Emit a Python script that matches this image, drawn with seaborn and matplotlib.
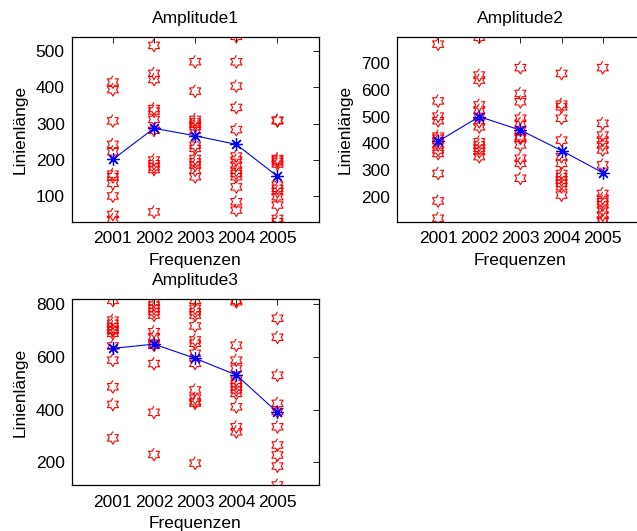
import numpy as np
import pandas as pd
import seaborn as sns
import matplotlib
matplotlib.use("Agg")
import matplotlib.pyplot as plt

years = [2001, 2002, 2003, 2004, 2005]
titles = ["Amplitude1", "Amplitude2", "Amplitude3"]
ylims = [(30, 540), (106, 800), (114, 819)]
yticks = [[100, 200, 300, 400, 500],
          [200, 300, 400, 500, 600, 700],
          [200, 400, 600, 800]]

amp1 = [
    [415, 394, 308, 243, 223, 161, 154, 136, 101, 50, 36],
    [516, 439, 422, 342, 335, 312, 282, 200, 190, 181, 174, 57],
    [471, 390, 312, 305, 299, 292, 282, 241, 232, 204, 195, 186, 172, 154],
    [541, 471, 404, 345, 284, 211, 200, 186, 172, 163, 154, 126, 85, 62],
    [310, 308, 204, 200, 195, 189, 131, 122, 113, 99, 76, 39, 30],
]
amp2 = [
    [772, 559, 502, 485, 427, 419, 410, 394, 375, 362, 287, 184, 119],
    [798, 656, 637, 544, 525, 500, 481, 462, 406, 394, 381, 369, 350],
    [684, 587, 556, 494, 475, 450, 425, 420, 419, 394, 344, 325, 269],
    [662, 547, 537, 494, 412, 350, 325, 287, 275, 262, 250, 237, 206],
    [684, 475, 431, 412, 394, 375, 319, 212, 194, 181, 169, 150, 131, 112, 108],
]
amp3 = [
    [815, 740, 728, 715, 705, 703, 700, 690, 642, 588, 487, 420, 293],
    [810, 797, 785, 772, 759, 696, 677, 650, 645, 575, 390, 230],
    [815, 785, 772, 759, 718, 665, 652, 614, 576, 475, 444, 431, 425, 197],
    [815, 810, 645, 588, 557, 512, 500, 487, 475, 462, 411, 335, 316],
    [747, 675, 531, 424, 393, 335, 266, 228, 186, 114],
]

# hexagram marker (MATLAB 'h')
ang = np.deg2rad(90 + 30 * np.arange(12))
rad = np.where(np.arange(12) % 2 == 0, 1.0, 1 / np.sqrt(3))
hexagram = list(zip(rad * np.cos(ang), rad * np.sin(ang)))

sns.set_style("white")
plt.rcParams['font.family'] = ['Liberation Sans', 'DejaVu Sans']
plt.rcParams['font.size'] = 12.5
plt.rcParams['text.color'] = 'black'
plt.rcParams['axes.labelcolor'] = 'black'
plt.rcParams['xtick.color'] = 'black'
plt.rcParams['ytick.color'] = 'black'

fig = plt.figure(figsize=(6.37, 5.31), dpi=100)
positions = [
    [0.1126, 0.5825, 0.3876, 0.3484],
    [0.6232, 0.5825, 0.3876, 0.3484],
    [0.1126, 0.0866, 0.3876, 0.3497],
]

for amp, title, pos, yl, yt in zip([amp1, amp2, amp3], titles, positions, ylims, yticks):
    df = pd.DataFrame(
        [(yr, v) for yr, vals in zip(years, amp) for v in vals],
        columns=["year", "value"],
    )
    ax = fig.add_axes(pos)
    sns.scatterplot(data=df, x="year", y="value", ax=ax, marker=hexagram,
                    s=85, facecolors="none", edgecolor="red", linewidth=0.8,
                    legend=False)
    sns.lineplot(data=df, x="year", y="value", ax=ax, estimator="mean",
                 errorbar=None, color="blue", linewidth=0.8,
                 marker=(8, 2, 0), markersize=9, markeredgecolor="blue",
                 markeredgewidth=0.9)
    ax.set_xlim(2000, 2006)
    ax.set_ylim(*yl)
    ax.set_xticks(years)
    ax.set_xticklabels([str(y) for y in years])
    ax.set_yticks(yt)
    ax.set_title(title, fontsize=12.5, pad=10, color="black")
    ax.set_xlabel("Frequenzen", fontsize=12.5, labelpad=4.5)
    ax.set_ylabel("Linienlänge", fontsize=12.5, labelpad=6)
    ax.tick_params(direction="in", length=4, width=0.6, top=True, right=True,
                   labelsize=12.5)
    ax.tick_params(axis="x", pad=7)
    ax.tick_params(axis="y", pad=5)
    for sp in ax.spines.values():
        sp.set_visible(True)
        sp.set_color("black")
        sp.set_linewidth(0.9)

fig.savefig("out.png", dpi=100)
